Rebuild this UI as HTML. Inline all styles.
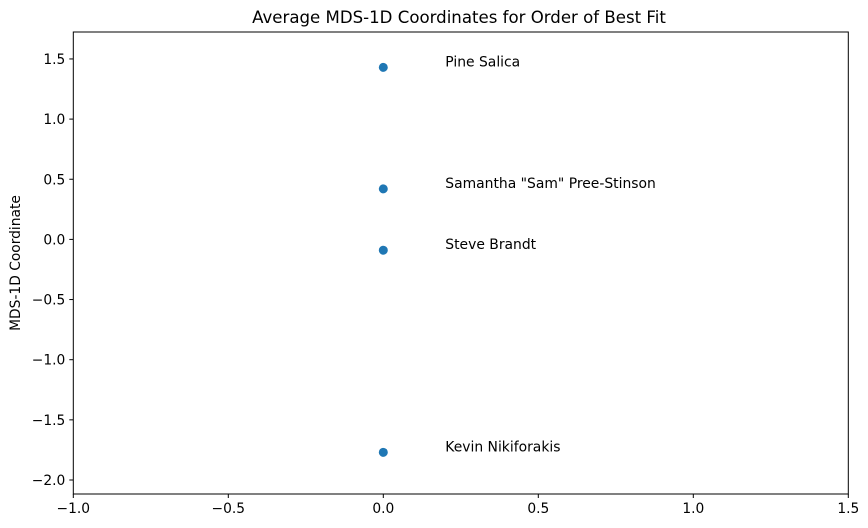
<!DOCTYPE html>
<html><head><style>
body{margin:0;background:#fff;}
svg{display:block;font-family:"DejaVu Sans","Liberation Sans",sans-serif;}
</style></head><body>
<svg id="c" width="868" height="528">
<text x="459" y="23" font-size="16.6" text-anchor="middle">Average MDS-1D Coordinates for Order of Best Fit</text>
<text transform="translate(20,263) rotate(-90)" font-size="13.8" text-anchor="middle">MDS-1D Coordinate</text>
<g id="plot"></g>
</svg>
<script>
const names=["Pine Salica","Samantha \"Sam\" Pree-Stinson","Steve Brandt","Kevin Nikiforakis"];
const xVals=[0,0,0,0];
const yVals=[1.43,0.42,-0.09,-1.77];
const xTicks=[-1.0,-0.5,0.0,0.5,1.0,1.5];
const yTicks=[1.5,1.0,0.5,0.0,-0.5,-1.0,-1.5,-2.0];
const L=73.3,R=848.3,T=32,B=494;
const xmin=-1,xmax=1.5;
const sx=v=>L+(v-xmin)/(xmax-xmin)*(R-L);
const sy=v=>480+(-2-v)*120.3;
const g=document.getElementById('plot');
const NS="http://www.w3.org/2000/svg";
function mk(t,a){const e=document.createElementNS(NS,t);for(const k in a)e.setAttribute(k,a[k]);g.appendChild(e);return e;}
const fmt=v=>(v<0?"\u2212":"")+Math.abs(v).toFixed(1);
xTicks.forEach(v=>{
 const l=mk('line',{x1:sx(v),x2:sx(v),y1:B,y2:B+4,stroke:'#000'});
 
 
 const t=mk('text',{x:sx(v),y:B+19,'font-size':13.8,'text-anchor':'middle'});t.textContent=fmt(v);
 
 
});
yTicks.forEach(v=>{
 const l=mk('line',{x1:L-4,x2:L,y1:sy(v),y2:sy(v),stroke:'#000'});
 
 
 const t=mk('text',{x:L-8,y:sy(v)+5,'font-size':13.8,'text-anchor':'end'});t.textContent=fmt(v);
 
 
});
yVals.forEach((v,i)=>{
 const c=mk('circle',{cx:sx(xVals[i]),cy:sy(v),r:4.5,fill:'#1f77b4'});
 
 
 const t=mk('text',{x:sx(xVals[i]+0.2),y:sy(v)-1,'font-size':13.9});t.textContent=names[i];
 
 
});
const f=mk('rect',{x:L,y:T,width:R-L,height:B-T,fill:'none',stroke:'#000','stroke-width':1});


</script>
</body></html>
